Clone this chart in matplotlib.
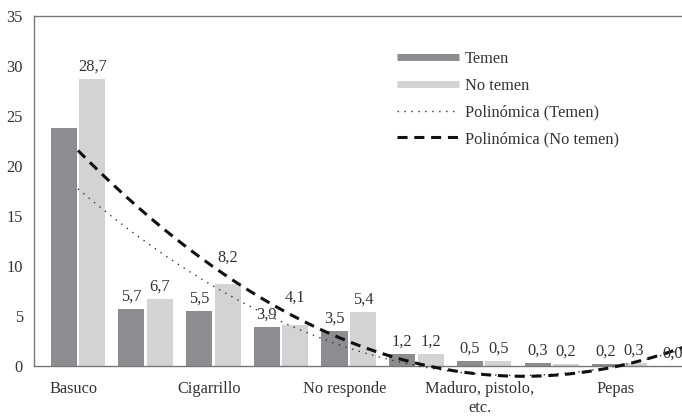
import numpy as np
import matplotlib
matplotlib.use("Agg")
import matplotlib.pyplot as plt
from matplotlib.lines import Line2D

categories = ["Basuco", "", "Cigarrillo", "", "No responde", "",
              "Maduro, pistolo,\netc.", "", "Pepas", ""]
temen = [23.8, 5.7, 5.5, 3.9, 3.5, 1.2, 0.5, 0.3, 0.2, 0.0]
no_temen = [28.7, 6.7, 8.2, 4.1, 5.4, 1.2, 0.5, 0.2, 0.3, 0.0]
temen_labels = ["", "5,7", "5,5", "3,9", "3,5", "1,2", "0,5", "0,3", "0,2", "0,0"]
no_temen_labels = ["28,7", "6,7", "8,2", "4,1", "5,4", "1,2", "0,5", "0,2", "0,3", ""]
yticks = [0, 5, 10, 15, 20, 25, 30, 35]

plt.rcParams['font.family'] = ['Liberation Serif', 'DejaVu Serif']
FS = 11.8
W, H = 682, 417
fig = plt.figure(figsize=(W / 100, H / 100), dpi=100)
left, bottom, top, right = 34, 366, 16, 721
ax = fig.add_axes([left / W, (H - bottom) / H, (right - left) / W, (bottom - top) / H])

x = np.arange(len(categories))
bw = 0.385
off = 0.21
dark = "#8d8d91"
light = "#d3d3d5"
ax.bar(x - off, temen, bw, color=dark, zorder=2)
ax.bar(x + off, no_temen, bw, color=light, zorder=2)

# label lift (points) — a few labels were moved up to clear the trend line
lift_t = {}
lift_n = {2: 10, 3: 11}
for i, (v, lab) in enumerate(zip(temen, temen_labels)):
    if lab:
        ax.annotate(lab, (x[i] - off, v), xytext=(0, 3 + lift_t.get(i, 0)),
                    textcoords="offset points", ha="center", va="bottom",
                    fontsize=FS, color="#333333", zorder=4, annotation_clip=False)
for i, (v, lab) in enumerate(zip(no_temen, no_temen_labels)):
    if lab:
        ax.annotate(lab, (x[i] + off, v), xytext=(0, 3 + lift_n.get(i, 0)),
                    textcoords="offset points", ha="center", va="bottom",
                    fontsize=FS, color="#333333", zorder=4, annotation_clip=False)

# polynomial (order 2) trend lines, as in the spreadsheet trendlines
xs = np.linspace(0, 9, 200)
pt = np.polyfit(x + 1, temen, 2)
pn = np.polyfit(x + 1, no_temen, 2)
ax.plot(xs, np.polyval(pt, xs + 1), color="#333333", lw=1.0, ls=(0, (1, 4)),
        zorder=3, clip_on=False)
ax.plot(xs, np.polyval(pn, xs + 1), color="#111111", lw=2.2, ls=(0, (3.3, 2.2)),
        zorder=3, clip_on=False)

ax.set_xlim(-0.65, 9.5)
ax.set_ylim(0, 35)
ax.set_yticks(yticks)
ax.set_yticklabels([str(t) for t in yticks], fontsize=FS, color="#333333")
ax.set_xticks(x - 0.06)
ax.set_xticklabels(categories, fontsize=FS, color="#333333", linespacing=1.2)
ax.tick_params(axis="both", length=0)
ax.tick_params(axis="y", pad=8)
ax.tick_params(axis="x", pad=11)
for s in ["top", "left", "bottom"]:
    ax.spines[s].set_color("#777777")
    ax.spines[s].set_linewidth(1.0)
ax.spines["right"].set_visible(False)

handles = [
    Line2D([], [], color=dark, lw=5, solid_capstyle="butt"),
    Line2D([], [], color=light, lw=5, solid_capstyle="butt"),
    Line2D([], [], color="#333333", lw=1.0, ls=(0, (1, 4))),
    Line2D([], [], color="#111111", lw=2.2, ls=(0, (3.3, 2.2))),
]
labels = ["Temen", "No temen", "Polinómica (Temen)", "Polinómica (No temen)"]
fig.legend(handles, labels, loc="upper left", bbox_to_anchor=(382 / W, 1 - 36 / H),
           frameon=False, fontsize=FS, handlelength=3.8, handletextpad=0.35,
           labelspacing=0.66, labelcolor="#333333")

fig.savefig("out.png", dpi=100)
